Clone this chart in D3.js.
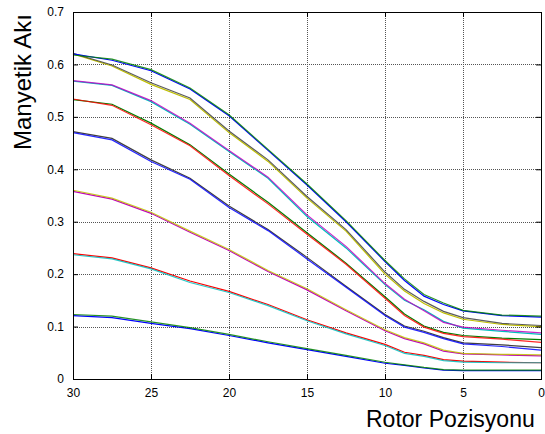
<!DOCTYPE html>
<html>
<head>
<meta charset="utf-8">
<script src="https://cdn.jsdelivr.net/npm/d3@7/dist/d3.min.js"></script>
<style>
    body { margin: 0; background: #fff; }
    text { font-family: Arial, "Liberation Sans", sans-serif; }
</style>
</head>
<body>
<div id="chart"></div>
<script>
// rotor position samples (x axis runs 30 -> 0)
var positions = [30, 27.5, 25, 22.5, 20, 17.5, 15, 12.5, 10, 8.75, 7.5, 6.25, 5, 2.5, 0];
var xTicks = [30, 25, 20, 15, 10, 5, 0];
var yTicks = [0, 0.1, 0.2, 0.3, 0.4, 0.5, 0.6, 0.7];

// each flux curve is plotted twice (two runs), matlab colour order
var flux01 = [0.121, 0.117, 0.106, 0.096, 0.083, 0.069, 0.056, 0.043, 0.030, 0.026, 0.021, 0.017, 0.016, 0.016, 0.016];
var flux02 = [0.123, 0.120, 0.109, 0.098, 0.085, 0.071, 0.058, 0.045, 0.032, 0.027, 0.022, 0.018, 0.017, 0.017, 0.017];
var flux03 = [0.239, 0.231, 0.212, 0.187, 0.167, 0.142, 0.113, 0.088, 0.066, 0.051, 0.045, 0.037, 0.034, 0.032, 0.031];
var flux04 = [0.237, 0.229, 0.210, 0.184, 0.165, 0.140, 0.111, 0.086, 0.064, 0.049, 0.043, 0.035, 0.032, 0.031, 0.031];
var flux05 = [0.358, 0.343, 0.316, 0.280, 0.245, 0.205, 0.170, 0.130, 0.092, 0.077, 0.067, 0.053, 0.048, 0.046, 0.044];
var flux06 = [0.360, 0.345, 0.318, 0.282, 0.247, 0.207, 0.172, 0.132, 0.094, 0.079, 0.069, 0.055, 0.049, 0.047, 0.046];
var flux07 = [0.472, 0.459, 0.418, 0.383, 0.330, 0.285, 0.232, 0.177, 0.123, 0.101, 0.091, 0.079, 0.069, 0.065, 0.060];
var flux08 = [0.470, 0.456, 0.415, 0.381, 0.327, 0.283, 0.229, 0.175, 0.121, 0.099, 0.089, 0.077, 0.067, 0.062, 0.055];
var flux09 = [0.533, 0.524, 0.488, 0.447, 0.391, 0.337, 0.279, 0.221, 0.157, 0.124, 0.101, 0.089, 0.083, 0.078, 0.075];
var flux10 = [0.534, 0.522, 0.485, 0.445, 0.388, 0.334, 0.276, 0.219, 0.154, 0.121, 0.099, 0.087, 0.081, 0.076, 0.070];
var flux11 = [0.568, 0.560, 0.529, 0.486, 0.434, 0.383, 0.310, 0.250, 0.180, 0.150, 0.132, 0.110, 0.097, 0.091, 0.085];
var flux12 = [0.569, 0.561, 0.531, 0.488, 0.436, 0.385, 0.313, 0.253, 0.182, 0.152, 0.130, 0.108, 0.099, 0.093, 0.088];
var flux13 = [0.620, 0.597, 0.562, 0.533, 0.470, 0.415, 0.345, 0.282, 0.200, 0.168, 0.144, 0.126, 0.114, 0.104, 0.100];
var flux14 = [0.621, 0.599, 0.565, 0.536, 0.473, 0.418, 0.348, 0.285, 0.204, 0.171, 0.148, 0.129, 0.117, 0.106, 0.102];
var flux15 = [0.620, 0.608, 0.588, 0.553, 0.502, 0.436, 0.370, 0.300, 0.224, 0.188, 0.158, 0.142, 0.130, 0.121, 0.118];
var flux16 = [0.618, 0.610, 0.590, 0.555, 0.504, 0.438, 0.372, 0.302, 0.226, 0.191, 0.161, 0.145, 0.131, 0.122, 0.120];

var allSeries = [flux01, flux02, flux03, flux04, flux05, flux06, flux07, flux08,
                 flux09, flux10, flux11, flux12, flux13, flux14, flux15, flux16];
var colorOrder = ["#0000ff", "#008000", "#ff0000", "#00bfbf", "#bf00bf", "#bfbf00", "#404040"];

(function () {
    var width = 545,
        height = 434;
    var left = 73, right = 541, top = 12, bottom = 379;

    var svg = d3.select("#chart").append("svg")
        .attr("width", width)
        .attr("height", height)
        .style("display", "block");

    svg.append("rect")
        .attr("width", width)
        .attr("height", height)
        .attr("fill", "#fff");

    var x = d3.scaleLinear().domain([30, 0]).range([left, right]);
    var y = d3.scaleLinear().domain([0, 0.7]).range([bottom, top]);

    // dotted grid
    var grid = svg.append("g");
    grid.selectAll(".vg")
        .data(xTicks.slice(1, -1))
        .enter().append("line")
        .attr("class", "vg")
        .attr("x1", function (d) { return Math.round(x(d)) + 0.5; })
        .attr("x2", function (d) { return Math.round(x(d)) + 0.5; })
        .attr("y1", top)
        .attr("y2", bottom);
    grid.selectAll(".hg")
        .data(yTicks.slice(1, -1))
        .enter().append("line")
        .attr("class", "hg")
        .attr("y1", function (d) { return Math.round(y(d)) + 0.5; })
        .attr("y2", function (d) { return Math.round(y(d)) + 0.5; })
        .attr("x1", left)
        .attr("x2", right);
    grid.selectAll("line")
        .style("stroke", "#555")
        .style("stroke-width", "1px")
        .style("stroke-dasharray", "1,1")
        .style("shape-rendering", "crispEdges");

    // curves
    var line = d3.line()
        .x(function (d, i) { return x(positions[i]); })
        .y(function (d) { return y(d); });

    svg.append("g").selectAll("path")
        .data(allSeries)
        .enter().append("path")
        .attr("d", line)
        .attr("fill", "none")
        .attr("stroke", function (d, i) { return colorOrder[i % colorOrder.length]; })
        .attr("stroke-width", 1.2)
        .attr("stroke-opacity", function (d, i) { return i % 2 ? 0.85 : 1; });

    // axes, ticks pointing inward
    var yFormat = function (d) { return d === 0 ? "0" : d3.format(".1f")(d); };

    svg.append("g")
        .attr("transform", "translate(0," + bottom + ")")
        .call(d3.axisBottom(x).tickValues(xTicks).tickSize(-5).tickPadding(9).tickFormat(d3.format("d")));
    svg.append("g")
        .attr("transform", "translate(0," + top + ")")
        .call(d3.axisTop(x).tickValues(xTicks).tickSize(-5).tickFormat(""));
    svg.append("g")
        .attr("transform", "translate(" + left + ",0)")
        .call(d3.axisLeft(y).tickValues(yTicks).tickSize(-5).tickPadding(9).tickFormat(yFormat));
    svg.append("g")
        .attr("transform", "translate(" + right + ",0)")
        .call(d3.axisRight(y).tickValues(yTicks).tickSize(-5).tickFormat(""));

    svg.selectAll(".domain").remove();
    svg.selectAll(".tick line").attr("stroke", "#000");
    svg.selectAll(".tick text")
        .attr("fill", "#000")
        .style("font-size", "12px");

    // box
    svg.append("rect")
        .attr("x", left + 0.5)
        .attr("y", top + 0.5)
        .attr("width", right - left)
        .attr("height", bottom - top)
        .attr("fill", "none")
        .attr("stroke", "#000")
        .attr("stroke-width", 1);

    // labels
    svg.append("text")
        .attr("x", 366)
        .attr("y", 427)
        .style("font-size", "23px")
        .attr("fill", "#000")
        .text("Rotor Pozisyonu");

    svg.append("text")
        .attr("transform", "translate(31,82) rotate(-90)")
        .attr("text-anchor", "middle")
        .style("font-size", "24px")
        .attr("fill", "#000")
        .text("Manyetik Akı");
})();
</script>
</body>
</html>
